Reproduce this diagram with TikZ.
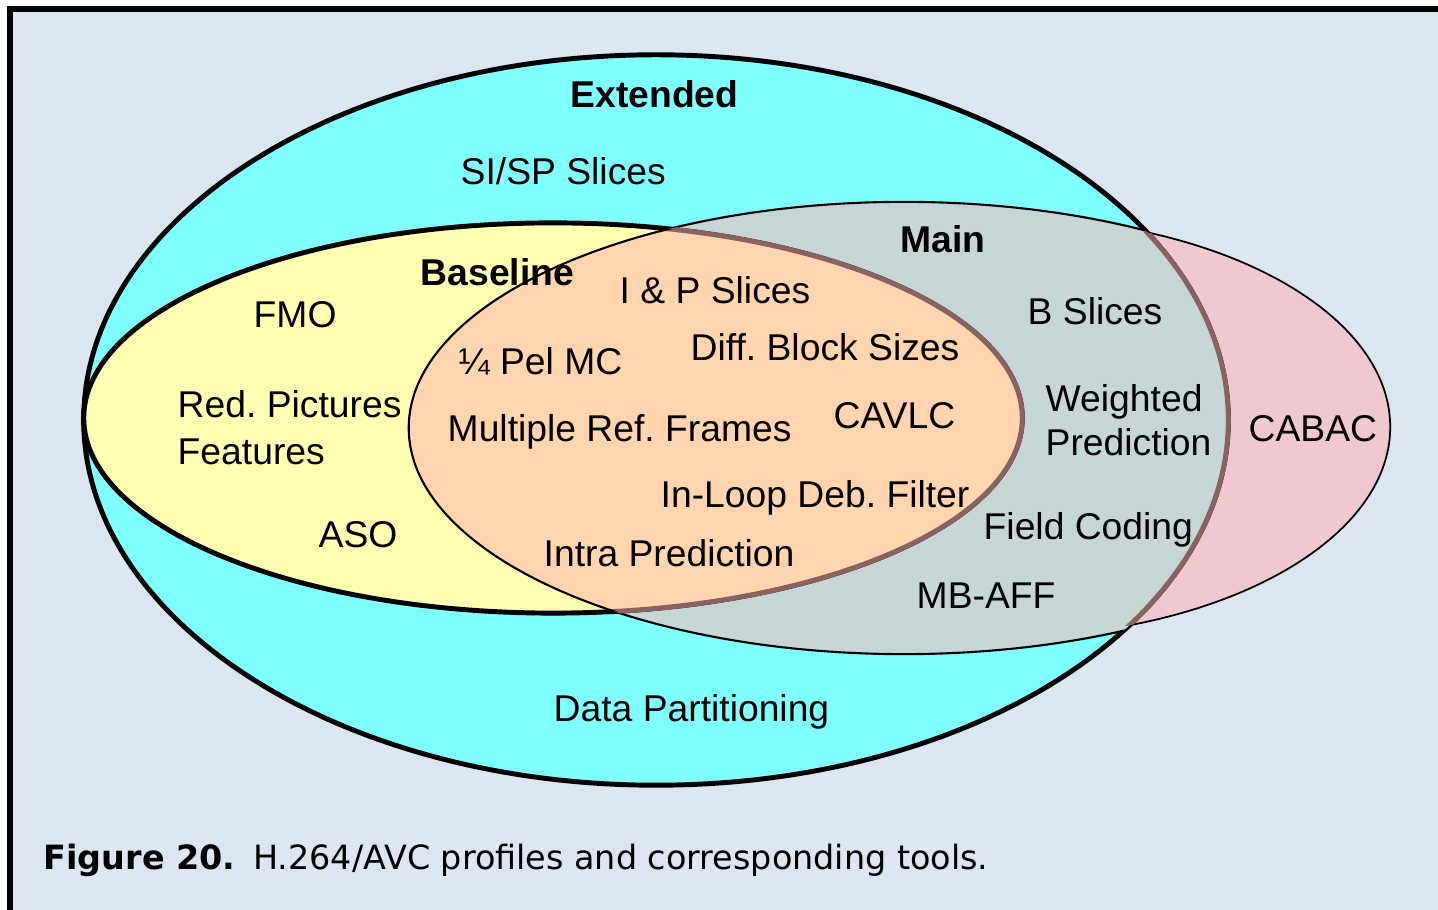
\documentclass[tikz,border=0pt]{standalone}
\usepackage{fontspec}
\setmainfont{Liberation Sans}
\newfontfamily\capfont{DejaVu Sans}

\definecolor{bgblue}{RGB}{220,230,240}
\definecolor{extcyan}{RGB}{128,255,255}
\definecolor{baseyellow}{RGB}{255,255,180}
\definecolor{maingray}{RGB}{198,214,214}
\definecolor{bothorange}{RGB}{255,213,176}
\definecolor{cabacpink}{RGB}{240,200,208}
\definecolor{edgebrown}{RGB}{139,98,98}

\begin{document}
\frenchspacing
\begin{tikzpicture}[
    x=0.01cm, y=-0.01cm,
    tool/.style={
        anchor=base west,
        inner sep=0pt,
        font=\fontsize{10.6}{13}\selectfont
    },
    profile/.style={
        tool,
        font=\fontsize{10.6}{13}\selectfont\bfseries
    },
    heavy/.style={line width=1.4pt},
    light/.style={line width=0.6pt},
    overlap/.style={edgebrown, line width=1.4pt}
]
\useasboundingbox (0,0) rectangle (1438,910);

% frame
\fill[bgblue] (10,9) rectangle (1438,910);
\draw[line width=1.8pt] (10,910) -- (10,9.3) -- (1438,9.3);

% CABAC sits behind Extended
\filldraw[fill=cabacpink, draw=black, line width=0.5pt]
    (1000,427) ellipse [x radius=3.9cm, y radius=2.1cm];

% Extended
\filldraw[fill=extcyan, draw=black, heavy]
    (656,420) ellipse [x radius=5.72cm, y radius=3.65cm];

% Main, cut by Extended
\begin{scope}
    \clip (656,420) ellipse [x radius=5.72cm, y radius=3.65cm];
    \filldraw[fill=maingray, draw=black, light]
        (904,428) ellipse [x radius=4.95cm, y radius=2.26cm];
\end{scope}

% Extended edge inside CABAC
\begin{scope}
    \clip (1000,427) ellipse [x radius=3.9cm, y radius=2.1cm];
    \draw[overlap] (656,420) ellipse [x radius=5.72cm, y radius=3.65cm];
\end{scope}

% Baseline
\filldraw[fill=baseyellow, draw=black, heavy]
    (553,418) ellipse [x radius=4.69cm, y radius=1.95cm];

% Baseline and Main together
\begin{scope}
    \clip (904,428) ellipse [x radius=4.95cm, y radius=2.26cm];
    \fill[bothorange] (553,418) ellipse [x radius=4.69cm, y radius=1.95cm];
    \draw[overlap] (553,418) ellipse [x radius=4.69cm, y radius=1.95cm];
\end{scope}
\begin{scope}
    \clip (553,418) ellipse [x radius=4.69cm, y radius=1.95cm];
    \draw[light] (904,428) ellipse [x radius=4.95cm, y radius=2.26cm];
\end{scope}

% profile names
\node[profile] (extended) at (570,108) {Extended};
\node[profile] (main) at (900,253) {Main};
\node[profile] (baseline) at (420,286) {Baseline};

% tools
\node[tool] (sisp) at (460,185) {SI/SP Slices};
\node[tool] (ipslices) at (619,304) {I \& P Slices};
\node[tool] (fmo) at (253,328) {FMO};
\node[tool] (bslices) at (1027,325) {B Slices};
\node[tool] (quarter) at (458,375) {¼ Pel MC};
\node[tool] (blocks) at (690,361) {Diff. Block Sizes};
\node[tool] (redpic) at (177,418) {Red. Pictures};
\node[tool] (features) at (177,465) {Features};
\node[tool] (multiref) at (447,442) {Multiple Ref. Frames};
\node[tool] (cavlc) at (833,429) {CAVLC};
\node[tool] (weighted) at (1045,412) {Weighted};
\node[tool] (wpred) at (1045,456) {Prediction};
\node[tool] (cabac) at (1248,442) {CABAC};
\node[tool] (deblock) at (660,508) {In-Loop Deb. Filter};
\node[tool] (aso) at (318,548) {ASO};
\node[tool] (field) at (983,540) {Field Coding};
\node[tool] (intra) at (543,567) {Intra Prediction};
\node[tool] (mbaff) at (916,609) {MB-AFF};
\node[tool] (datapart) at (553,722) {Data Partitioning};

% caption
\node[anchor=base west, inner sep=0pt, font=\capfont\fontsize{9.5}{11}\selectfont]
    (caption) at (43,870) {\textbf{Figure 20.}\hspace{2pt} H.264/AVC profiles and corresponding tools.};

\end{tikzpicture}
\end{document}
